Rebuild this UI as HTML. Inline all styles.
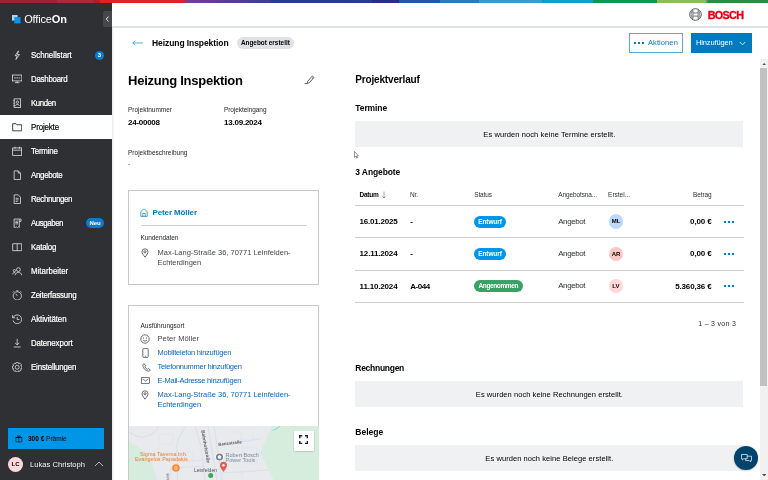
<!DOCTYPE html>
<html lang="de">
<head>
<meta charset="utf-8">
<title>OfficeOn – Heizung Inspektion</title>
<style>
*{box-sizing:border-box;margin:0;padding:0}
html,body{width:768px;height:480px;overflow:hidden;background:#fff}
body{font-family:"Liberation Sans",sans-serif;color:#000;position:relative;-webkit-font-smoothing:antialiased}
.a{position:absolute;white-space:nowrap;line-height:1}
b,.b{font-weight:700}
/* top stripe */
#stripe{left:0;top:0;width:768px;height:3px;background:linear-gradient(90deg,
#9e2231 0,#9e2231 57px,#b12638 57px,#b12638 94px,#af2024 94px,#af2024 100px,#e11f26 100px,#e11f26 185px,
#7b3a96 185px,#3d3f8f 268px,#2b3e8b 272px,#283b87 372px,#2a2f7f 372px,#2a2f7f 399px,#2458a5 399px,#2458a5 440px,
#2e7ab8 440px,#2e7ab8 479px,#3b9dcb 479px,#3b9dcb 542px,#0aa3c6 542px,#0aa3c6 593px,#0a9a4f 593px,#0a9a4f 657px,
#8cbd62 657px,#8cbd62 705px,#2e8b3f 708.5px,#2e8b3f 768px)}
/* sidebar */
#side{left:0;top:3px;width:112px;height:477px;background:#2e3033}
.nav{left:0;width:112px;height:24px;color:#fff;font-size:8.5px}
.nav span{position:absolute;left:31px;top:8.2px;line-height:1;transform:scaleX(.93);transform-origin:0 50%;-webkit-text-stroke:.2px currentColor}
.nav svg{position:absolute;left:11.8px;top:6.8px;width:10.4px;height:10.4px;fill:none;stroke:#f0f0f0;stroke-width:.85}
.nav.act{background:#fff;color:#000}
.nav.act svg{stroke:#000}
/* header */
#hdr{left:112px;top:3px;width:656px;height:23px;background:#fff}
#hdrl{left:112px;top:25.9px;width:656px;height:1.7px;background:#dfe2e5}
.lbl{font-size:6.5px;color:#1c1e20}
.val{font-size:8px;font-weight:700}
.card{border:1px solid #c6c8ca;background:#fff}
.blue{color:#007bc0}
.link{color:#0a64c2}
.gbox{left:355.3px;width:388.2px;height:26px;background:#eff1f2;font-size:7.5px;text-align:center;line-height:26px;color:#000}
.th{font-size:6.5px;color:#2e3033}
.td{font-size:8px}
.hr{left:355.2px;width:388.8px;height:1px;background:#cbcdcf}
.pill{height:12.2px;border-radius:6.1px;color:#fff;font-size:6.5px;font-weight:700;line-height:12.2px;text-align:center}
.av{width:14.6px;height:14.6px;border-radius:7.3px;font-size:6px;font-weight:700;line-height:14.6px;text-align:center}
.dots i{position:absolute;width:2px;height:2px;background:#007bc0;top:0}
</style>
</head>
<body>
<div class="a" id="stripe"></div>
<div class="a" id="side"></div>
<div class="a" id="hdr"></div>
<div class="a" id="hdrl"></div>
<div class="a" style="left:112px;top:27.600px;width:2px;height:453px;background:linear-gradient(90deg,rgba(0,0,0,.10),rgba(0,0,0,0))"></div>

<!-- SIDEBAR -->
<svg class="a" style="left:12.2px;top:14.8px" width="10" height="10" viewBox="0 0 10 10"><rect x="0" y="0" width="5.6" height="5.6" fill="#a9d6f7"/><rect x="2.3" y="2.100" width="6.200" height="6.300" fill="#0a93ea"/></svg>
<div class="a" style="left:24.2px;top:14.4px;font-size:11px;color:#fff;letter-spacing:-0.152px">Office<b>On</b></div>
<div class="a" style="left:103px;top:11px;width:9px;height:16px;background:#45484c;border-radius:2px 0 0 2px">
 <svg class="a" style="left:2px;top:5px" width="5" height="6" viewBox="0 0 5 6"><path d="M3.6 0.6 L1.2 3 L3.6 5.4" fill="none" stroke="#fff" stroke-width="0.9"/></svg>
</div>

<div class="a nav" style="top:43px"><svg viewBox="0 0 12 12"><path d="M7.5 1 L3.5 6.6 H6 L4.5 11 L8.6 5.2 H6.2 Z"/></svg><span style="letter-spacing:-0.051px">Schnellstart</span></div>
<div class="a" style="left:94.8px;top:50.7px;width:9.2px;height:9.2px;border-radius:5px;background:#087dd0;color:#fff;font-size:6px;font-weight:700;text-align:center;line-height:9.2px">3</div>
<div class="a nav" style="top:67px"><svg viewBox="0 0 12 12"><rect x="0.6" y="1.2" width="10.8" height="6.800"/><path d="M3.400 10 H8.600 M6 8 V10 M2.400 4.600 H4.400 M5 4.600 H7 M7.600 4.600 H9.600" /></svg><span style="letter-spacing:-0.273px">Dashboard</span></div>
<div class="a nav" style="top:91px"><svg viewBox="0 0 12 12"><rect x="2.5" y="1" width="7.5" height="10"/><circle cx="6.2" cy="4.8" r="1.4"/><path d="M3.8 9 C3.8 7 8.6 7 8.6 9 M1.5 3 H3 M1.5 6 H3 M1.5 9 H3"/></svg><span style="letter-spacing:-0.452px">Kunden</span></div>
<div class="a nav act" style="top:115px"><svg viewBox="0 0 12 12"><path d="M0.8 2 H4.6 L5.6 3.2 H11.2 V10.2 H0.8 Z"/></svg><span style="letter-spacing:-0.143px">Projekte</span></div>
<div class="a nav" style="top:139px"><svg viewBox="0 0 12 12"><rect x="0.8" y="2.2" width="10.4" height="8.6"/><path d="M0.8 4.8 H11.2 M3.4 0.8 V3.2 M8.6 0.8 V3.2"/></svg><span style="letter-spacing:-0.228px">Termine</span></div>
<div class="a nav" style="top:163px"><svg viewBox="0 0 12 12"><path d="M2.5 1 H7.2 L9.8 3.6 V11 H2.5 Z M7.2 1 V3.6 H9.8"/></svg><span style="letter-spacing:-0.337px">Angebote</span></div>
<div class="a nav" style="top:187px"><svg viewBox="0 0 12 12"><path d="M2.5 1 H7.2 L9.8 3.6 V11 H2.5 Z M4.2 5 H7.6 M4.2 6.8 H7.6 M4.2 8.6 H6.4"/></svg><span style="letter-spacing:-0.399px">Rechnungen</span></div>
<div class="a nav" style="top:211px"><svg viewBox="0 0 12 12"><path d="M2.4 1.2 H8.4 V11 L7.4 10.2 L6.4 11 L5.4 10.2 L4.4 11 L3.4 10.2 L2.4 11 Z M8.4 1.2 H10.4 V4 H8.4 M3.8 3.6 H7 M3.8 5.2 H7 M3.8 6.8 H7"/></svg><span style="letter-spacing:-0.481px">Ausgaben</span></div>
<div class="a" style="left:86.2px;top:218px;width:17.8px;height:10px;border-radius:5px;background:#087dd0;color:#fff;font-size:6px;font-weight:700;text-align:center;line-height:10px">Neu</div>
<div class="a nav" style="top:235px"><svg viewBox="0 0 12 12"><path d="M0.8 2 H11.2 V10 H0.8 Z M6 2 V10"/></svg><span style="letter-spacing:-0.262px">Katalog</span></div>
<div class="a nav" style="top:259px"><svg viewBox="0 0 12 12"><circle cx="7.4" cy="4.2" r="2.2"/><path d="M3.6 10.6 C3.6 6.4 11.2 6.4 11.2 10.6"/><circle cx="2.8" cy="5.4" r="1.3"/><path d="M0.8 9.6 C0.8 7.6 3 7.2 3.8 7.8"/></svg><span style="letter-spacing:-0.010px">Mitarbeiter</span></div>
<div class="a nav" style="top:283px"><svg viewBox="0 0 12 12"><circle cx="6.1" cy="6.8" r="4.8"/><path d="M6.1 6.8 L4.4 4.4 M4.9 0.9 H7.3 M0.9 3 L2.5 1.4 M11.3 3 L9.7 1.4"/></svg><span style="letter-spacing:-0.200px">Zeiterfassung</span></div>
<div class="a nav" style="top:307px"><svg viewBox="0 0 12 12"><path d="M1.3 4.2 A5.1 5.1 0 1 1 1.1 7.4 M0.6 1.4 V4.4 H3.6 M6 3.4 V6.4 H8.6"/></svg><span style="letter-spacing:-0.097px">Aktivitäten</span></div>
<div class="a nav" style="top:331px"><svg viewBox="0 0 12 12"><path d="M6 1 V8 M3.6 5.6 L6 8 L8.4 5.6 M2 10.4 H10"/></svg><span style="letter-spacing:-0.157px">Datenexport</span></div>
<div class="a nav" style="top:355px"><svg viewBox="0 0 12 12"><path d="M4.9 0.4 H7.1 L7.6 1.9 L9.1 1.3 L10.7 2.9 L10.1 4.400 L11.600 4.900 V7.100 L10.100 7.600 L10.700 9.100 L9.100 10.700 L7.600 10.100 L7.100 11.600 H4.900 L4.400 10.100 L2.900 10.700 L1.300 9.100 L1.900 7.600 L0.400 7.100 V4.900 L1.900 4.400 L1.300 2.900 L2.900 1.300 L4.400 1.900 Z" stroke-linejoin="round"/><circle cx="6" cy="6" r="2.300"/></svg><span style="letter-spacing:-0.185px">Einstellungen</span></div>

<div class="a" style="left:8px;top:428px;width:96px;height:21px;background:#0096e8"></div>
<svg class="a" style="left:15.2px;top:435.2px" width="7.6" height="7.6" viewBox="0 0 9 9"><path d="M1 3 H8 V8.2 H1 Z M0.6 3 H8.4 M4.5 3 V8.2 M4.5 3 C2.5 3 2.2 0.8 3.4 0.8 C4.2 0.8 4.5 2 4.5 3 C4.5 2 4.8 0.8 5.6 0.8 C6.8 0.8 6.5 3 4.5 3" fill="none" stroke="#000" stroke-width="0.7"/></svg>
<div class="a" style="left:28px;top:435.8px;font-size:6.5px;color:#000;letter-spacing:0.006px"><b>300 €</b> Prämie</div>
<div class="a" style="left:8px;top:457px;width:15px;height:15px;border-radius:7.5px;background:#ffd9d9;color:#000;font-size:6px;font-weight:700;text-align:center;line-height:15px">LC</div>
<div class="a" style="left:30px;top:461.3px;font-size:7.6px;color:#f4f4f4;letter-spacing:0.009px">Lukas Christoph</div>
<svg class="a" style="left:94px;top:461.400px" width="10" height="6" viewBox="0 0 10 6"><path d="M1 5 L5 1 L9 5" fill="none" stroke="#d8d8d8" stroke-width="0.800"/></svg>

<!-- HEADER -->
<svg class="a" style="left:689.4px;top:7.9px" width="13" height="13" viewBox="0 0 13 13"><circle cx="6.5" cy="6.5" r="5.8" fill="none" stroke="#55585b" stroke-width="1"/><path d="M3.9 2.3 V10.700 M9.100 2.300 V10.700 M3.900 4.900 H9.100 M3.900 8.100 H9.100 M3.900 2.300 C1.700 4.400 1.700 8.600 3.900 10.700 M9.100 2.300 C11.300 4.400 11.300 8.600 9.100 10.700" fill="none" stroke="#55585b" stroke-width="0.800"/></svg>
<div class="a" style="left:707.7px;top:9.5px;font-size:10.8px;font-weight:700;color:#ea0016;-webkit-text-stroke:0.35px #ea0016;letter-spacing:-0.675px">BOSCH</div>

<!-- BREADCRUMB ROW -->
<svg class="a" style="left:132px;top:40px" width="12" height="6" viewBox="0 0 12 6"><path d="M0.8 3 H11 M3.2 0.8 L0.8 3 L3.2 5.2" fill="none" stroke="#3aa6e8" stroke-width="0.9"/></svg>
<div class="a b" style="left:152px;top:39px;font-size:8.5px;letter-spacing:-0.078px">Heizung Inspektion</div>
<div class="a b" style="left:236.9px;top:37px;width:57px;height:12px;border-radius:6px;background:#e0e2e5;font-size:6.4px;line-height:12px;text-align:center;letter-spacing:0.023px">Angebot erstellt</div>
<div class="a" style="left:629.3px;top:33.3px;width:53.4px;height:19.8px;border:1px solid #5aa9d8;background:#fff"></div>
<div class="a dots" style="left:634px;top:42px"><i style="left:0"></i><i style="left:4px"></i><i style="left:8px"></i></div>
<div class="a" style="left:648px;top:39px;font-size:7.5px;color:#007bc0;letter-spacing:0.088px">Aktionen</div>
<div class="a" style="left:690.8px;top:33.3px;width:61.2px;height:19.8px;background:#007bc0"></div>
<div class="a" style="left:696px;top:39px;font-size:7.5px;color:#fff;letter-spacing:-0.128px">Hinzufügen</div>
<svg class="a" style="left:739px;top:41px" width="7" height="5" viewBox="0 0 7 5"><path d="M0.8 1 L3.5 3.8 L6.2 1" fill="none" stroke="#fff" stroke-width="0.8"/></svg>

<!-- LEFT COLUMN -->
<div class="a b" style="left:128px;top:73.8px;font-size:13px;letter-spacing:-0.245px">Heizung Inspektion</div>
<svg class="a" style="left:304px;top:74px" width="11" height="10" viewBox="0 0 11 10"><path d="M3.600 7.400 L8.300 2 L10 3.400 L5.300 8.800 L3.200 9.300 Z M8 3.600 L9.200 4.600 M0.600 9.400 H3.200" fill="none" stroke="#2e3033" stroke-width="0.750"/></svg>
<div class="a lbl" style="left:128px;top:106.7px;letter-spacing:-0.007px">Projektnummer</div>
<div class="a val" style="left:128px;top:119.4px;letter-spacing:-0.259px">24-00008</div>
<div class="a lbl" style="left:224px;top:106.7px;letter-spacing:-0.067px">Projekteingang</div>
<div class="a val" style="left:224px;top:119.4px;letter-spacing:-0.227px">13.09.2024</div>
<div class="a lbl" style="left:128px;top:149.5px;letter-spacing:0.007px">Projektbeschreibung</div>
<div class="a" style="left:128px;top:160.500px;font-size:6.5px;color:#2e3033">-</div>

<div class="a card" style="left:128px;top:190px;width:191px;height:95px"></div>
<svg class="a" style="left:140px;top:208px" width="8" height="9" viewBox="0 0 8 9"><path d="M0.8 8.4 V3.6 L4 0.8 L7.2 3.6 V8.4 Z M2.8 8.4 V5.4 H5.2 V8.4" fill="none" stroke="#007bc0" stroke-width="0.7"/></svg>
<div class="a b blue" style="left:152.5px;top:208.5px;font-size:8px;letter-spacing:-0.118px">Peter Möller</div>
<div class="a" style="left:140.5px;top:225.200px;width:166px;height:1px;background:#cbcdcf"></div>
<div class="a lbl" style="left:140.5px;top:235px;letter-spacing:-0.079px">Kundendaten</div>
<svg class="a pin" style="left:141px;top:248px" width="8" height="10" viewBox="0 0 8 10"><path d="M4 9.2 C2 6.6 1 5.2 1 3.8 A3 3 0 0 1 7 3.8 C7 5.2 6 6.6 4 9.2 Z" fill="none" stroke="#2e3033" stroke-width="0.7"/><circle cx="4" cy="3.8" r="1.1" fill="none" stroke="#2e3033" stroke-width="0.7"/></svg>
<div class="a" style="left:157.5px;top:248.8px;font-size:7.5px;color:#43464a;letter-spacing:0.002px">Max-Lang-Straße 36, 70771 Leinfelden-</div>
<div class="a" style="left:157.5px;top:259.2px;font-size:7.5px;color:#43464a;letter-spacing:-0.055px">Echterdingen</div>

<div class="a card" style="left:128px;top:305px;width:191px;height:190px"></div>
<div class="a lbl" style="left:140.5px;top:323px;letter-spacing:-0.015px">Ausführungsort</div>
<svg class="a" style="left:140px;top:333.8px" width="10" height="10" viewBox="0 0 10 10"><circle cx="5" cy="5" r="4.2" fill="none" stroke="#2e3033" stroke-width="0.7"/><circle cx="3.5" cy="4" r="0.5" fill="#2e3033"/><circle cx="6.5" cy="4" r="0.5" fill="#2e3033"/><path d="M3 6 C3.8 7.4 6.2 7.4 7 6" fill="none" stroke="#2e3033" stroke-width="0.7"/></svg>
<div class="a" style="left:157.5px;top:335px;font-size:7.5px;color:#43464a;letter-spacing:0.106px">Peter Möller</div>
<svg class="a" style="left:141.800px;top:347.8px" width="7" height="10" viewBox="0 0 7 10"><rect x="0.8" y="0.6" width="5.4" height="8.8" rx="0.8" fill="none" stroke="#2e3033" stroke-width="0.7"/><path d="M2.8 8.2 H4.2" stroke="#2e3033" stroke-width="0.6"/></svg>
<div class="a link" style="left:157.5px;top:348.800px;font-size:7.5px;letter-spacing:-0.245px">Mobiltelefon hinzufügen</div>
<svg class="a" style="left:141.500px;top:362.800px" width="9" height="9" viewBox="0 0 9 9"><path d="M2.4 0.8 L3.6 2.8 L2.8 3.8 C3.4 5 4.2 5.8 5.4 6.4 L6.4 5.6 L8.2 6.8 C8 7.8 7.2 8.2 6.4 8.2 C3.6 8 1 5.2 0.8 2.4 C0.8 1.6 1.4 0.9 2.4 0.8 Z" fill="none" stroke="#2e3033" stroke-width="0.7"/></svg>
<div class="a link" style="left:157.5px;top:362.800px;font-size:7.5px;letter-spacing:-0.267px">Telefonnummer hinzufügen</div>
<svg class="a" style="left:140.600px;top:376.800px" width="9" height="7.200" viewBox="0 0 10 8"><rect x="0.6" y="0.8" width="8.8" height="6.4" fill="none" stroke="#2e3033" stroke-width="0.7"/><path d="M1.6 2 L5 4.6 L8.4 2" fill="none" stroke="#2e3033" stroke-width="0.7"/></svg>
<div class="a link" style="left:157.5px;top:376.800px;font-size:7.5px;letter-spacing:-0.252px">E-Mail-Adresse hinzufügen</div>
<svg class="a pin" style="left:141px;top:390px" width="8" height="10" viewBox="0 0 8 10"><path d="M4 9.2 C2 6.6 1 5.2 1 3.8 A3 3 0 0 1 7 3.8 C7 5.2 6 6.6 4 9.2 Z" fill="none" stroke="#2e3033" stroke-width="0.7"/><circle cx="4" cy="3.8" r="1.1" fill="none" stroke="#2e3033" stroke-width="0.7"/></svg>
<div class="a link" style="left:157.5px;top:390.800px;font-size:7.5px;letter-spacing:0.002px">Max-Lang-Straße 36, 70771 Leinfelden-</div>
<div class="a link" style="left:157.5px;top:401.200px;font-size:7.5px;letter-spacing:-0.055px">Echterdingen</div>

<!-- MAP -->
<div class="a" id="map" style="left:128.5px;top:425.5px;width:190px;height:54.5px;background:#e8eaed;overflow:hidden">
<svg width="190" height="54.5" viewBox="0 0 190 54.5" font-family="Liberation Sans, sans-serif">
 <path d="M0 16 L8.5 20.5 C15 26 20 32 22.8 37.5 C25.500 43 27 49 28 54.5 H0 Z" fill="#d6ecdc"/>
 <path d="M143 0 L131.3 27 L145 54.5 H190 V0 Z" fill="#d6ecdc"/>
 <path d="M143.7 4.3 C146 3.600 149 2 150.800 0.400" fill="none" stroke="#7fd0f0" stroke-width="1"/>
 <g fill="none" stroke="#dae1eb" stroke-width="1.200">
  <path d="M56.700 0 C52 8 47.500 14 47.500 22 L48.500 54.5"/>
  <path d="M66 0 L72 20 L76 54.5"/>
  <path d="M79 0 L88 54.5"/>
  <path d="M85 0 L93 54.5"/>
  <path d="M48 36 L76 34 L131 27"/>
  <path d="M86 19.500 L131 13"/>
  <path d="M40 54.5 L42 42 L76 40"/>
  <path d="M0 6 C10 14 24 12 30 0"/>
  <path d="M93 47 L140 44"/>
 </g>
 <g fill="none" stroke="#dde3ec" stroke-width="0.600">
  <path d="M30 8 H44 V18 H30 Z M52 26 H64 V34 M100 6 H112 V14 H124 V4 M104 22 H128 V38 H104 Z M112 44 L114 54.5 M14 28 H30 V20"/>
 </g>
 <text x="72.300" y="4.500" font-size="4.700" font-weight="700" fill="#5a6067" transform="rotate(80 72.300 4.500)">Bahnhofstraße</text>
 <text x="89.500" y="20" font-size="4.400" font-weight="700" fill="#5a6067" transform="rotate(-7 89.500 20)">Benzstraße</text>
 <text x="34.600" y="29.800" font-size="5.500" fill="#e8803a" text-anchor="middle">Sigma Taverna Inh.</text>
 <text x="32.400" y="35.200" font-size="5.500" fill="#e8803a" text-anchor="middle">Evangelos Papadakis</text>
 <path d="M46.900 46.600 L44.600 44 H49.200 Z" fill="#fff"/>
 <circle cx="46.900" cy="42" r="3.800" fill="#f58a34"/>
 <path d="M46 40 V44 M47.800 40 V44" stroke="#fff" stroke-width="0.600"/>
 <circle cx="90.500" cy="31" r="4.300" fill="#fff"/>
 <circle cx="90.500" cy="31" r="2.700" fill="#fff" stroke="#6e8797" stroke-width="1.700"/>
 <text x="96.500" y="31" font-size="5.500" fill="#7d8a99">Robert Bosch</text>
 <text x="96.500" y="36.300" font-size="5.500" fill="#7d8a99">Power Tools</text>
 <path d="M94.500 46 C92 42.200 91 41 91 39.200 A3.500 3.500 0 0 1 98 39.200 C98 41 97 42.200 94.500 46 Z" fill="#ea5a4c"/><circle cx="94.500" cy="39.200" r="1.200" fill="#fff"/>
 <text x="64.900" y="46.200" font-size="5" fill="#4a4f57">Leinfelden</text>
 <circle cx="81.700" cy="49.600" r="2.500" fill="#3aa860"/>
 <text x="37" y="47" font-size="4" fill="#5f6368" transform="rotate(82 37 47)">Verd</text>
</svg>
</div>
<div class="a" style="left:294px;top:431px;width:19.600px;height:19.800px;background:#fff;box-shadow:0 0.500px 1.500px rgba(0,0,0,.3)"></div>
<svg class="a" style="left:299px;top:435px" width="9.200" height="9.200" viewBox="0 0 9.200 9.200"><path d="M0.750 3.200 V0.750 H3.200 M6 0.750 H8.450 V3.200 M8.450 6 V8.450 H6 M3.200 8.450 H0.750 V6" fill="none" stroke="#222" stroke-width="1.500"/></svg>

<!-- RIGHT COLUMN -->
<div class="a b" style="left:355.3px;top:74.6px;font-size:10px;letter-spacing:-0.169px">Projektverlauf</div>
<div class="a b" style="left:355.3px;top:103.7px;font-size:8.5px;letter-spacing:-0.098px">Termine</div>
<div class="a gbox" style="top:121px;line-height:27.4px"><span style="letter-spacing:0.090px">Es wurden noch keine Termine erstellt.</span></div>
<svg class="a" style="left:354px;top:150.8px" width="5" height="8" viewBox="0 0 5 8"><path d="M0.5 0.5 V6.4 L1.9 5.1 L2.8 7.2 L3.5 6.9 L2.6 4.9 H4.4 Z" fill="#fff" stroke="#333" stroke-width="0.5"/></svg>
<div class="a b" style="left:355.3px;top:167.5px;font-size:8.5px;letter-spacing:-0.108px">3 Angebote</div>

<div class="a th b" style="left:359.6px;top:192.4px;color:#000;letter-spacing:-0.284px">Datum</div>
<svg class="a" style="left:382.2px;top:191.4px" width="4" height="8" viewBox="0 0 4 8"><path d="M2 0.6 V7 M0.6 5.6 L2 7 L3.4 5.6" fill="none" stroke="#43464a" stroke-width="0.5"/></svg>
<div class="a th" style="left:410.1px;top:192.4px;letter-spacing:-0.206px">Nr.</div>
<div class="a th" style="left:474.2px;top:192.4px;letter-spacing:-0.108px">Status</div>
<div class="a th" style="left:558.2px;top:192.4px;letter-spacing:-0.110px">Angebotsna...</div>
<div class="a th" style="left:608.1px;top:192.4px;letter-spacing:-0.018px">Erstel...</div>
<div class="a th" style="left:693px;top:192.4px;letter-spacing:-0.091px">Betrag</div>
<div class="a hr" style="top:205px"></div>

<div class="a td b" style="left:359.6px;top:218.0px;letter-spacing:-0.227px">16.01.2025</div>
<div class="a td b" style="left:410.3px;top:218.0px">-</div>
<div class="a pill" style="left:473.9px;top:215.5px;width:32.2px;background:#0096e8"><span style="letter-spacing:-0.101px">Entwurf</span></div>
<div class="a td" style="left:558.2px;top:217.5px;color:#2e3033;letter-spacing:-0.402px">Angebot</div>
<div class="a av" style="left:608.7px;top:214.4px;background:#bcd8ff">ML</div>
<div class="a td b" style="left:690.1px;top:218.0px;letter-spacing:-0.130px">0,00 €</div>
<div class="a dots" style="left:724.3px;top:220.6px"><i style="left:0"></i><i style="left:4.1px"></i><i style="left:8.2px"></i></div>
<div class="a hr" style="top:237.2px"></div>

<div class="a td b" style="left:359.6px;top:250.2px;letter-spacing:-0.179px">12.11.2024</div>
<div class="a td b" style="left:410.3px;top:250.2px">-</div>
<div class="a pill" style="left:473.9px;top:247.7px;width:32.2px;background:#0096e8"><span style="letter-spacing:-0.101px">Entwurf</span></div>
<div class="a td" style="left:558.2px;top:249.7px;color:#2e3033;letter-spacing:-0.402px">Angebot</div>
<div class="a av" style="left:608.7px;top:246.6px;background:#ffc6c6">AR</div>
<div class="a td b" style="left:690.1px;top:250.2px;letter-spacing:-0.130px">0,00 €</div>
<div class="a dots" style="left:724.3px;top:252.8px"><i style="left:0"></i><i style="left:4.1px"></i><i style="left:8.2px"></i></div>
<div class="a hr" style="top:269.5px"></div>

<div class="a td b" style="left:359.6px;top:282.5px;letter-spacing:-0.179px">11.10.2024</div>
<div class="a td b" style="left:410.3px;top:282.5px;letter-spacing:-0.474px">A-044</div>
<div class="a pill" style="left:473.9px;top:280.0px;width:48.8px;background:#37a264"><span style="letter-spacing:-0.372px">Angenommen</span></div>
<div class="a td" style="left:558.2px;top:282.0px;color:#2e3033;letter-spacing:-0.402px">Angebot</div>
<div class="a av" style="left:608.7px;top:278.9px;background:#ffd9d9">LV</div>
<div class="a td b" style="left:675.2px;top:282.5px;letter-spacing:-0.146px">5.360,36 €</div>
<div class="a dots" style="left:724.3px;top:285.1px"><i style="left:0"></i><i style="left:4.1px"></i><i style="left:8.2px"></i></div>
<div class="a hr" style="top:301.9px"></div>

<div class="a" style="left:698.3px;top:319.6px;font-size:7px;color:#2e3033;letter-spacing:0.286px">1 – 3 von 3</div>

<div class="a b" style="left:355.3px;top:363.5px;font-size:8.5px;letter-spacing:-0.276px">Rechnungen</div>
<div class="a gbox" style="top:380.8px;line-height:27.4px"><span style="letter-spacing:0.058px">Es wurden noch keine Rechnungen erstellt.</span></div>
<div class="a b" style="left:355.3px;top:427.5px;font-size:8.5px;letter-spacing:0.025px">Belege</div>
<div class="a gbox" style="top:445px;line-height:27.4px"><span style="letter-spacing:0.069px">Es wurden noch keine Belege erstellt.</span></div>

<!-- scrollbar -->
<div class="a" style="left:760px;top:59.4px;width:8px;height:421px;background:#f1f1f1"></div>
<div class="a" style="left:760.4px;top:67.8px;width:6.700px;height:318.100px;background:#c1c1c1"></div>
<svg class="a" style="left:761.600px;top:62.800px" width="4.400" height="2.400" viewBox="0 0 4.400 2.400"><path d="M0 2.400 L2.200 0 L4.400 2.400 Z" fill="#505050"/></svg>
<svg class="a" style="left:762px;top:474px" width="4.400" height="2.400" viewBox="0 0 4.400 2.400"><path d="M0 0 L2.200 2.400 L4.400 0 Z" fill="#505050"/></svg>

<!-- chat button -->
<div class="a" style="left:733.900px;top:445.900px;width:24.200px;height:24px;border-radius:12.100px;background:#00446e;box-shadow:0 0.500px 2px rgba(0,0,0,.3)"></div>
<svg class="a" style="left:740.600px;top:453.600px" width="11" height="8.800" viewBox="0 0 11 8.800"><path d="M0.500 0.500 H6.200 V4.800 H2.600 L1.400 6 V4.800 H0.500 Z M6.200 2.200 H10.500 V6.600 H9.600 V7.900 L8.300 6.600 H4.600 V4.800" fill="none" stroke="#fff" stroke-width="0.700"/></svg>
</body>
</html>
